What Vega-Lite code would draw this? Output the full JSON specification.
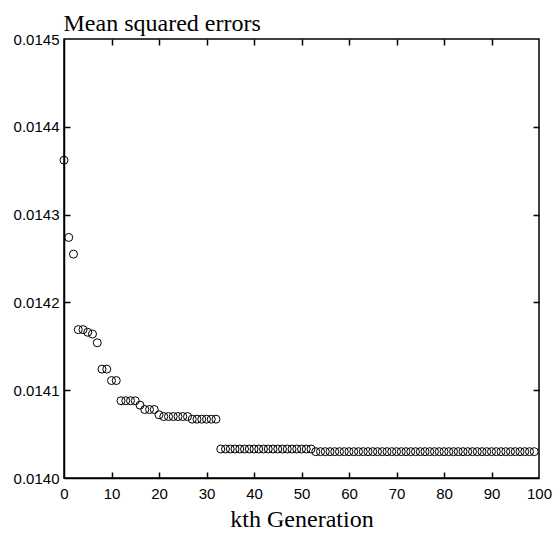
{
  "$schema": "https://vega.github.io/schema/vega-lite/v6.json",
  "width": 475,
  "height": 439,
  "autosize": {"type": "none"},
  "padding": {"left": 64, "top": 39, "right": 17, "bottom": 61},
  "background": "white",
  "config": {
    "view": {"stroke": "black", "strokeWidth": 1.5},
    "axis": {"grid": false, "domainColor": "black", "tickColor": "black", "tickOpacity": 1, "labelColor": "black", "labelFont": "Liberation Sans", "labelFontSize": 15, "tickSize": 6, "domainWidth": 1.5, "tickWidth": 1.5}
  },
  "data": {"values": [
    {"k": 0, "mse": 0.014362},
    {"k": 1, "mse": 0.014274},
    {"k": 2, "mse": 0.014255},
    {"k": 3, "mse": 0.014169},
    {"k": 4, "mse": 0.014169},
    {"k": 5, "mse": 0.014166},
    {"k": 6, "mse": 0.014164},
    {"k": 7, "mse": 0.014154},
    {"k": 8, "mse": 0.014124},
    {"k": 9, "mse": 0.014124},
    {"k": 10, "mse": 0.014111},
    {"k": 11, "mse": 0.014111},
    {"k": 12, "mse": 0.014088},
    {"k": 13, "mse": 0.014088},
    {"k": 14, "mse": 0.014088},
    {"k": 15, "mse": 0.014088},
    {"k": 16, "mse": 0.014083},
    {"k": 17, "mse": 0.014078},
    {"k": 18, "mse": 0.014078},
    {"k": 19, "mse": 0.014078},
    {"k": 20, "mse": 0.014072},
    {"k": 21, "mse": 0.014070},
    {"k": 22, "mse": 0.014070},
    {"k": 23, "mse": 0.014070},
    {"k": 24, "mse": 0.014070},
    {"k": 25, "mse": 0.014070},
    {"k": 26, "mse": 0.014070},
    {"k": 27, "mse": 0.014067},
    {"k": 28, "mse": 0.014067},
    {"k": 29, "mse": 0.014067},
    {"k": 30, "mse": 0.014067},
    {"k": 31, "mse": 0.014067},
    {"k": 32, "mse": 0.014067},
    {"k": 33, "mse": 0.014033},
    {"k": 34, "mse": 0.014033},
    {"k": 35, "mse": 0.014033},
    {"k": 36, "mse": 0.014033},
    {"k": 37, "mse": 0.014033},
    {"k": 38, "mse": 0.014033},
    {"k": 39, "mse": 0.014033},
    {"k": 40, "mse": 0.014033},
    {"k": 41, "mse": 0.014033},
    {"k": 42, "mse": 0.014033},
    {"k": 43, "mse": 0.014033},
    {"k": 44, "mse": 0.014033},
    {"k": 45, "mse": 0.014033},
    {"k": 46, "mse": 0.014033},
    {"k": 47, "mse": 0.014033},
    {"k": 48, "mse": 0.014033},
    {"k": 49, "mse": 0.014033},
    {"k": 50, "mse": 0.014033},
    {"k": 51, "mse": 0.014033},
    {"k": 52, "mse": 0.014033},
    {"k": 53, "mse": 0.014030},
    {"k": 54, "mse": 0.014030},
    {"k": 55, "mse": 0.014030},
    {"k": 56, "mse": 0.014030},
    {"k": 57, "mse": 0.014030},
    {"k": 58, "mse": 0.014030},
    {"k": 59, "mse": 0.014030},
    {"k": 60, "mse": 0.014030},
    {"k": 61, "mse": 0.014030},
    {"k": 62, "mse": 0.014030},
    {"k": 63, "mse": 0.014030},
    {"k": 64, "mse": 0.014030},
    {"k": 65, "mse": 0.014030},
    {"k": 66, "mse": 0.014030},
    {"k": 67, "mse": 0.014030},
    {"k": 68, "mse": 0.014030},
    {"k": 69, "mse": 0.014030},
    {"k": 70, "mse": 0.014030},
    {"k": 71, "mse": 0.014030},
    {"k": 72, "mse": 0.014030},
    {"k": 73, "mse": 0.014030},
    {"k": 74, "mse": 0.014030},
    {"k": 75, "mse": 0.014030},
    {"k": 76, "mse": 0.014030},
    {"k": 77, "mse": 0.014030},
    {"k": 78, "mse": 0.014030},
    {"k": 79, "mse": 0.014030},
    {"k": 80, "mse": 0.014030},
    {"k": 81, "mse": 0.014030},
    {"k": 82, "mse": 0.014030},
    {"k": 83, "mse": 0.014030},
    {"k": 84, "mse": 0.014030},
    {"k": 85, "mse": 0.014030},
    {"k": 86, "mse": 0.014030},
    {"k": 87, "mse": 0.014030},
    {"k": 88, "mse": 0.014030},
    {"k": 89, "mse": 0.014030},
    {"k": 90, "mse": 0.014030},
    {"k": 91, "mse": 0.014030},
    {"k": 92, "mse": 0.014030},
    {"k": 93, "mse": 0.014030},
    {"k": 94, "mse": 0.014030},
    {"k": 95, "mse": 0.014030},
    {"k": 96, "mse": 0.014030},
    {"k": 97, "mse": 0.014030},
    {"k": 98, "mse": 0.014030},
    {"k": 99, "mse": 0.014030}
  ]},
  "layer": [
    {
      "mark": {"type": "point", "shape": "circle", "filled": false, "stroke": "black", "strokeWidth": 1, "size": 64, "opacity": 1},
      "encoding": {
        "x": {"field": "k", "type": "quantitative", "scale": {"domain": [0, 100], "nice": false, "zero": false},
          "axis": {"orient": "bottom", "values": [0, 10, 20, 30, 40, 50, 60, 70, 80, 90, 100], "format": "d", "ticks": false, "labelPadding": 8, "title": "kth Generation", "titleFont": "Liberation Serif", "titleFontSize": 24, "titleFontWeight": "normal", "titleColor": "black", "titleBaseline": "alphabetic", "titleY": 48, "labelFlush": false}},
        "y": {"field": "mse", "type": "quantitative", "scale": {"domain": [0.014, 0.0145], "nice": false, "zero": false},
          "axis": {"orient": "left", "values": [0.014, 0.0141, 0.0142, 0.0143, 0.0144, 0.0145], "format": ".4f", "ticks": false, "labelPadding": 5, "labelFlush": false,
            "title": "Mean squared errors", "titleFont": "Liberation Serif", "titleFontSize": 24, "titleFontWeight": "normal", "titleColor": "black", "titleAngle": 0, "titleAlign": "left", "titleBaseline": "alphabetic", "titleX": -1, "titleY": -9}}
      }
    },
    {
      "mark": {"type": "point", "opacity": 0},
      "encoding": {
        "x": {"field": "k", "type": "quantitative", "scale": {"domain": [0, 100], "nice": false, "zero": false},
          "axis": {"orient": "top", "offset": -439, "values": [10, 20, 30, 40, 50, 60, 70, 80, 90], "ticks": true, "labels": false, "domain": false, "title": null}},
        "y": {"field": "mse", "type": "quantitative", "scale": {"domain": [0.014, 0.0145], "nice": false, "zero": false},
          "axis": {"orient": "right", "offset": -475, "values": [0.0141, 0.0142, 0.0143, 0.0144], "ticks": true, "labels": false, "domain": false, "title": null}}
      }
    },
    {
      "mark": {"type": "point", "opacity": 0},
      "encoding": {
        "x": {"field": "k", "type": "quantitative", "scale": {"domain": [0, 100], "nice": false, "zero": false},
          "axis": {"orient": "bottom", "offset": -439, "values": [10, 20, 30, 40, 50, 60, 70, 80, 90], "ticks": true, "labels": false, "domain": false, "title": null}},
        "y": {"field": "mse", "type": "quantitative", "scale": {"domain": [0.014, 0.0145], "nice": false, "zero": false},
          "axis": {"orient": "left", "offset": -475, "values": [0.0141, 0.0142, 0.0143, 0.0144], "ticks": true, "labels": false, "domain": false, "title": null}}
      }
    }
  ],
  "resolve": {"axis": {"x": "independent", "y": "independent"}}
}
